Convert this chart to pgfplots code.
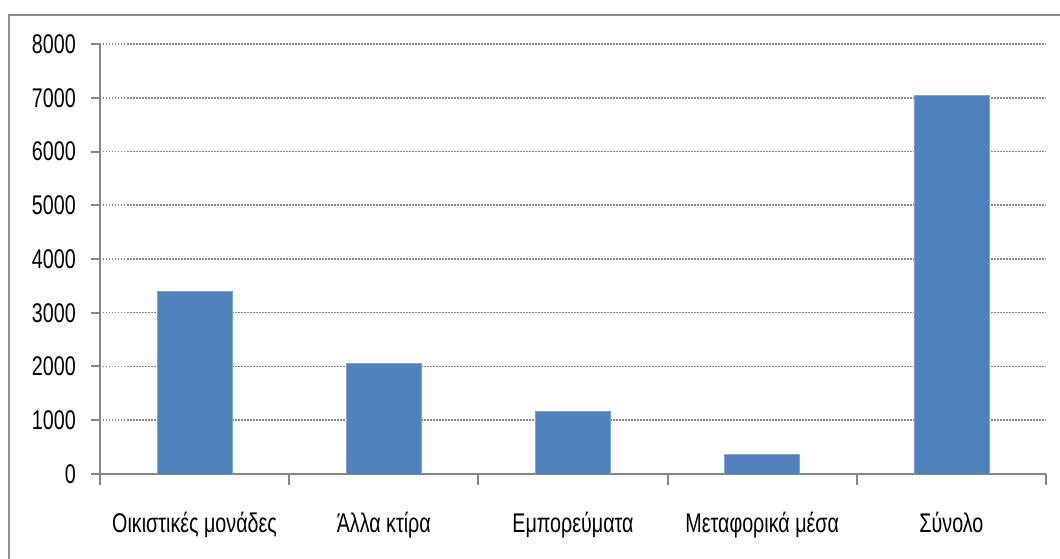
\documentclass[border=0pt]{standalone}
\usepackage{fontspec}
\setmainfont{Liberation Sans}[FakeStretch=0.73]
\usepackage{pgfplots}
\pgfplotsset{compat=1.18}
\definecolor{barblue}{HTML}{4F81BD}
\definecolor{baredge}{HTML}{7FA3D2}
\definecolor{axgray}{HTML}{868686}
\definecolor{framegray}{HTML}{8C8C8C}
\begin{document}
\fontsize{27}{31}\selectfont
\begin{tikzpicture}
% outer chart frame, partly outside the page like the reference
\begin{scope}
\clip (-100pt,-85pt) rectangle (960pt,474pt);
\draw[framegray, line width=2pt] (-91pt,-130pt) rectangle (1010pt,459pt);
\end{scope}
\begin{axis}[
  at={(0pt,0pt)}, anchor=south west,
  scale only axis, width=946pt, height=430pt,
  xmin=0.5, xmax=5.5, ymin=0, ymax=8000,
  axis x line=bottom, axis y line=left,
  x axis line style={-, axgray, line width=2pt},
  y axis line style={-, axgray, line width=2pt},
  ytick={0,1000,...,8000},
  xtick={1,2,3,4,5},
  xticklabels={{Οικιστικές μονάδες},{Άλλα κτίρα},{Εμπορεύματα},{Μεταφορικά μέσα},{Σύνολο}},
  minor xtick={0.5,1.5,...,5.5},
  major x tick style={draw=none},
  tick align=outside,
  major tick length=9pt, minor tick length=11pt,
  every tick/.style={axgray, line width=2pt},
  ymajorgrids,
  grid style={axgray, line width=1.5pt, dash pattern=on 1.5pt off 1.5pt},
  /pgf/number format/1000 sep={},
  /pgf/number format/assume math mode=true,
  yticklabel style={anchor=east, inner sep=0pt, xshift=-15pt},
  xticklabel style={anchor=base, inner sep=0pt, yshift=-49pt},
]
\addplot[ybar, bar width=75pt, bar shift=0pt, fill=barblue, draw=baredge, line width=0.8pt]
  coordinates {(1,3400) (2,2060) (3,1170) (4,370) (5,7050)};
\end{axis}
\pgfresetboundingbox
\useasboundingbox (-100pt,-85pt) rectangle (960pt,474pt);
\end{tikzpicture}
\end{document}
